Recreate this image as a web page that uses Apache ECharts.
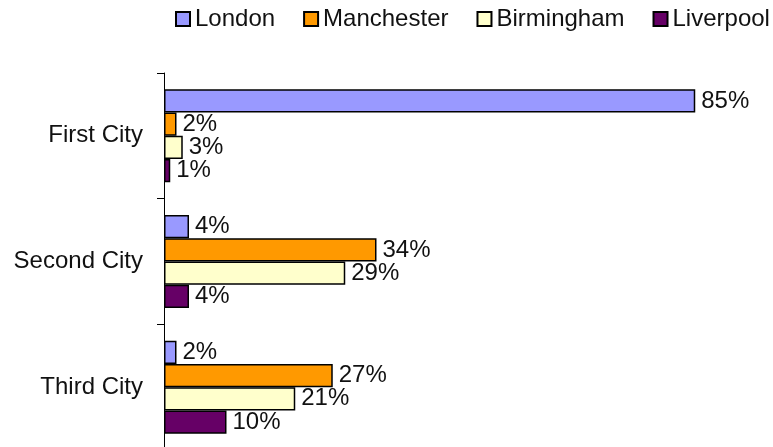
<!DOCTYPE html>
<html>
<head>
<meta charset="utf-8">
<script src="https://cdn.jsdelivr.net/npm/echarts@6/dist/echarts.min.js"></script>
<style>
  html, body { margin: 0; padding: 0; background: #fff; }
  #chart { width: 773px; height: 447px; }
</style>
</head>
<body>
<div id="chart"></div>
<script>
// chart data
const cities = ['First City', 'Second City', 'Third City']
const seriesNames = ['London', 'Manchester', 'Birmingham', 'Liverpool']
const london = [85, 4, 2]
const manchester = [2, 34, 27]
const birmingham = [3, 29, 21]
const liverpool = [1, 4, 10]

const seriesData = [london, manchester, birmingham, liverpool]
const colors = ['#9999FF', '#FF9900', '#FFFFCC', '#660066']
const font = '"Liberation Sans", Arial, sans-serif'

const chart = echarts.init(document.getElementById('chart'))

const option = {
  animation: false,
  textStyle: { fontFamily: font },
  legend: {
    top: 2,
    left: 170,
    width: 620,
    itemWidth: 14,
    itemHeight: 14,
    itemGap: 28,
    icon: 'rect',
    textStyle: { fontSize: 24, color: '#111', fontFamily: font },
    data: seriesNames,
  },
  // plot area runs past the right and bottom edges of the picture
  grid: {
    left: 164,
    top: 73,
    right: -16,
    bottom: -3,
    outerBoundsMode: 'none',
    containLabel: false,
  },
  xAxis: {
    type: 'value',
    min: 0,
    max: 100,
    show: false,
  },
  yAxis: {
    type: 'category',
    data: cities,
    inverse: true,
    axisLine: { show: true, lineStyle: { color: '#000', width: 1 } },
    axisTick: { show: true, length: 7, lineStyle: { color: '#000' } },
    axisLabel: { fontSize: 24, color: '#111', margin: 21, fontFamily: font },
  },
  series: seriesNames.map((name, i) => ({
    name,
    type: 'bar',
    data: seriesData[i],
    barGap: '0%',
    barCategoryGap: '26%',
    itemStyle: {
      color: colors[i],
      borderColor: '#000',
      borderWidth: 1.5,
    },
    label: {
      show: true,
      position: 'right',
      distance: 6,
      formatter: '{c}%',
      fontSize: 24,
      color: '#111',
      fontFamily: font,
    },
  })),
}

chart.setOption(option)
</script>
</body>
</html>
